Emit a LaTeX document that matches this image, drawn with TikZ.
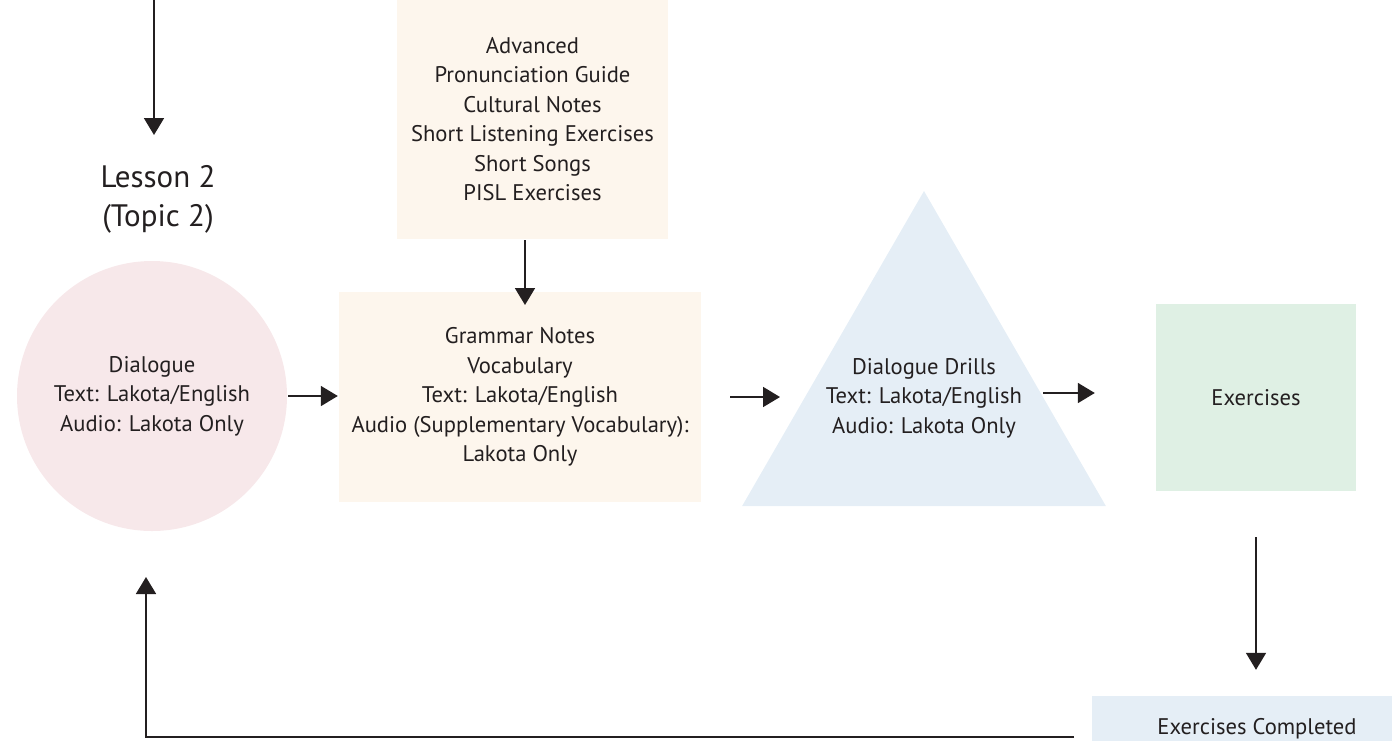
\documentclass[tikz,border=0pt]{standalone}
\usepackage{fontspec}
\setmainfont{PT Sans}
\usetikzlibrary{arrows.meta,shapes.geometric}
\definecolor{pinkfill}{RGB}{247,232,234}
\definecolor{beigefill}{RGB}{253,246,237}
\definecolor{bluefill}{RGB}{229,238,246}
\definecolor{greenfill}{RGB}{223,240,228}
\definecolor{ink}{RGB}{35,31,32}
\tikzset{
  every node/.style={text=ink},
  body/.style={font=\fontsize{22.6}{29.5}\selectfont, align=center, inner sep=0pt},
  flow/.style={draw=ink, line width=1.8pt, -{Triangle[width=20pt,length=17pt]}},
}
\begin{document}
\begin{tikzpicture}[x=1pt,y=-1pt]
\useasboundingbox (0,0) rectangle (1392,740);
% shapes
\node[body, circle, fill=pinkfill, minimum size=270pt] (dlg) at (152,396)
  {Dialogue\\Text: Lakota/English\\Audio: Lakota Only};
\node[body, fill=beigefill, minimum width=271pt, minimum height=240pt] (adv) at (532.5,119)
  {Advanced\\Pronunciation Guide\\Cultural Notes\\Short Listening Exercises\\Short Songs\\PISL Exercises};
\node[body, fill=beigefill, minimum width=362pt, minimum height=210pt] (gram) at (520,397)
  {Grammar Notes\\Vocabulary\\Text: Lakota/English\\Audio (Supplementary Vocabulary):\\Lakota Only};
\node[regular polygon, regular polygon sides=3, fill=bluefill, inner sep=0pt, minimum size=420pt] (drill) at (924,401) {};
\node[body] (drilltext) at (924,398) {Dialogue Drills\\Text: Lakota/English\\Audio: Lakota Only};
\node[body, fill=greenfill, minimum width=200pt, minimum height=187pt] (ex) at (1256,397.5)
  {Exercises};
\node[body, fill=bluefill, minimum width=330pt, minimum height=66pt] (done) at (1257,729)
  {Exercises Completed};
\node[font=\fontsize{31}{39}\selectfont, align=center, inner sep=0pt] (lesson) at (158,199)
  {Lesson 2\\(Topic 2)};
% coordinates for connectors
\coordinate (top) at (154,0);
\coordinate (lessonin) at (154,135);
\coordinate (advout) at (525,240);
\coordinate (gramin) at (525,305);
\coordinate (loopstart) at (1074,737);
\coordinate (loopcorner) at (146,737);
\coordinate (loopend) at (146,577);
% connectors
\draw[flow] (top) -- (lessonin);
\draw[flow] (advout) -- (gramin);
\draw[flow, shorten <=1pt, shorten >=1pt] (dlg.east) -- (dlg.east -| gram.west);
\draw[flow, shorten <=29pt, shorten >=144pt] (gram.east) -- (gram.east -| drill.center);
\draw[flow, shorten <=119pt, shorten >=61pt] ([yshift=5pt]drilltext.center) -- ([yshift=5pt]drilltext.center -| ex.west);
\draw[flow, shorten <=46pt, shorten >=26pt] (ex.south) -- (ex.south |- done.north);
\draw[flow] (loopstart) -- (loopcorner) -- (loopend);
\end{tikzpicture}
\end{document}
